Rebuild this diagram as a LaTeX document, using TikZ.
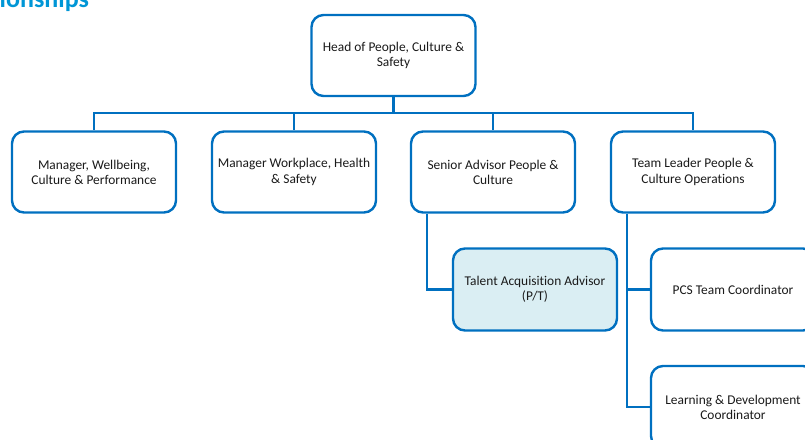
\documentclass[tikz,border=0pt]{standalone}
\usepackage{fontspec}
\setmainfont{Carlito}[Ligatures=NoCommon]
\definecolor{lineblue}{HTML}{0070C0}
\definecolor{fillblue}{HTML}{DAEEF3}
\definecolor{titleblue}{HTML}{0096D6}
\definecolor{txt}{HTML}{1A1A1A}
\begin{document}
\begin{tikzpicture}[x=1pt,y=-1pt,
  orgbox/.style={draw=lineblue, line width=2.4pt, rounded corners=12pt, fill=white,
    minimum width=164pt, minimum height=81pt, align=center, inner sep=2pt,
    text=txt, font=\fontsize{13.4}{15.2}\selectfont},
  subbox/.style={orgbox, minimum width=164pt, minimum height=82pt},
  hibox/.style={subbox, fill=fillblue},
  conn/.style={draw=lineblue, line width=2.2pt}]
\useasboundingbox (0,0) rectangle (805,439);
\node[anchor=base west, text=titleblue, font=\bfseries\fontsize{26}{30}\selectfont, inner sep=0pt] (title) at (-0.5,8) {ionships};

\coordinate (bus) at (0,113);
\node[orgbox] (head) at (393.5,55.5) {Head of People, Culture \&\\Safety};
\node[orgbox] (m1) at (94,172) {Manager, Wellbeing,\\Culture \& Performance};
\node[orgbox] (m2) at (294,172) {Manager Workplace, Health\\\& Safety};
\node[orgbox] (m3) at (493,172) {Senior Advisor People \&\\Culture};
\node[orgbox] (m4) at (693,172) {Team Leader People \&\\Culture Operations};

\node[hibox] (talent) at (535,289.5) {Talent Acquisition Advisor\\(P/T)};
\node[subbox] (pcs) at (733,289.5) {PCS Team Coordinator};
\node[subbox] (ld) at (733,407) {Learning \& Development\\Coordinator};

\coordinate (s3) at ([xshift=17pt]m3.south west);
\coordinate (s4) at ([xshift=17pt]m4.south west);

\draw[conn] (head.south) -- (head.south |- bus) -| (m1.north);
\draw[conn] (head.south |- bus) -| (m2.north);
\draw[conn] (head.south |- bus) -| (m3.north);
\draw[conn] (head.south |- bus) -| (m4.north);
\draw[conn] (s3) |- (talent.west);
\draw[conn] (s4) |- (pcs.west);
\draw[conn] (s4) |- (ld.west);
\end{tikzpicture}
\end{document}
